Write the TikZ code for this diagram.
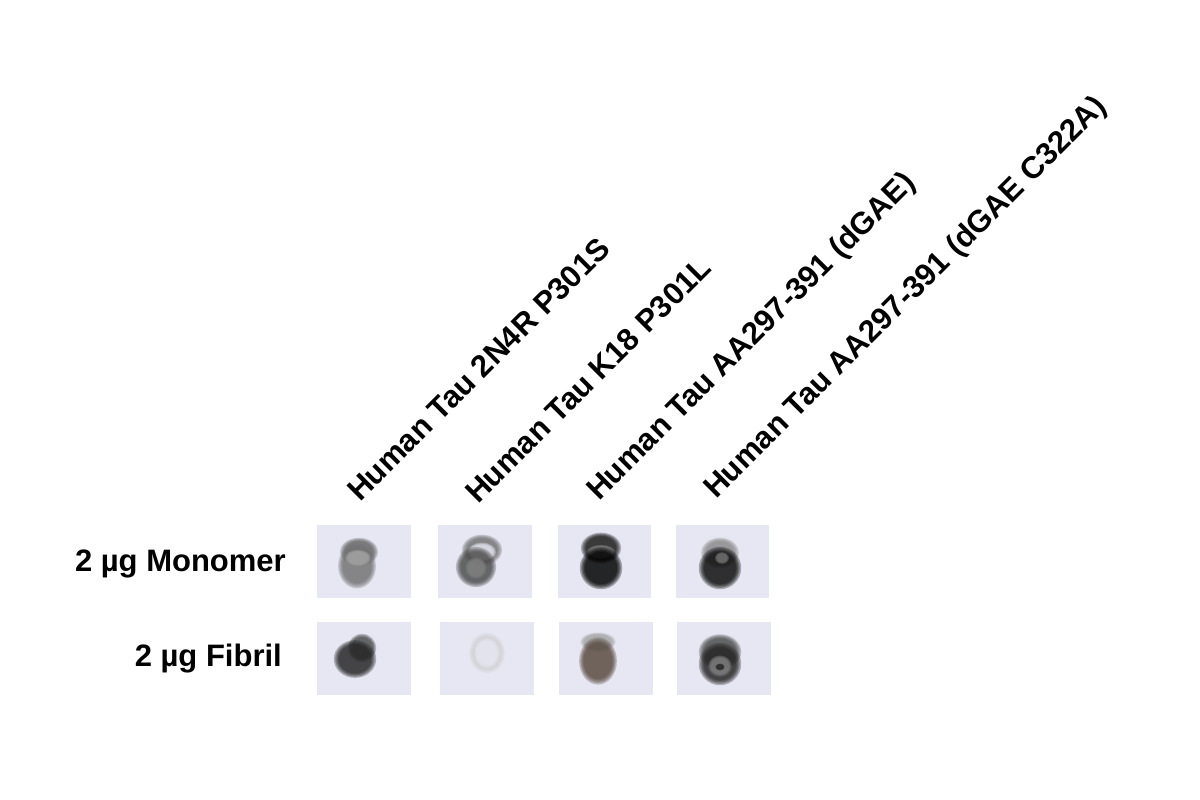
\documentclass[tikz,border=0pt]{standalone}
\usepackage{fontspec}
\setmainfont{Liberation Sans}
\definecolor{bg}{RGB}{230,231,243}
\definecolor{brn}{RGB}{88,74,64}
\tikzset{
  lab/.style={font=\fontsize{31}{34}\selectfont\bfseries, inner sep=0pt},
  collab/.style={lab, rotate=45, anchor=base west},
  panel/.style={fill=bg, draw=none}
}
\newcommand{\blob}[5]{\foreach \s in {1.18,1.1,1.03,0.96,0.9}{\fill[#5, opacity=0.3] (#1,{800-#2}) ellipse[x radius=\s*#3, y radius=\s*#4];}}
\begin{document}
\begin{tikzpicture}[x=1pt,y=1pt]
\useasboundingbox (0,0) rectangle (1200,800);
% column labels
\node[collab] (c1) at (360,297) {Human Tau 2N4R P301S};
\node[collab] (c2) at (478,295) {Human Tau K18 P301L};
\node[collab] (c3) at (599,298) {Human Tau AA297-391 (dGAE)};
\node[collab] (c4) at (716,300) {Human Tau AA297-391 (dGAE C322A)};
% row labels
\node[lab, anchor=east] (r1) at (286,236) {2 µg Monomer};
\node[lab, anchor=east] (r2) at (282,141) {2 µg Fibril};
% panels
\fill[panel] (317,202) rectangle (411,275);
\fill[panel] (438,202) rectangle (532,275);
\fill[panel] (558,202) rectangle (651,275);
\fill[panel] (676,202) rectangle (769,275);
\fill[panel] (317,105) rectangle (411,178);
\fill[panel] (440,105) rectangle (534,178);
\fill[panel] (559,105) rectangle (653,178);
\fill[panel] (677,105) rectangle (771,178);
% row 1 spots
\blob{359}{552}{16}{12}{black!60}
\blob{357}{566}{16}{19}{black!55}
\blob{358}{558}{11}{7}{black!35}
\blob{482}{550}{17}{13}{black!55}
\blob{482}{552}{12}{8}{bg}
\blob{476}{567}{17}{17}{black!70}
\blob{476}{568}{9}{9}{black!50}
\blob{601}{548}{17}{13}{black!90}
\blob{601}{552}{12}{6}{black!45}
\blob{601}{568}{18}{18}{black}
\blob{720}{553}{16}{13}{black!45}
\blob{720}{568}{18}{18}{black!95}
\blob{722}{558}{6}{5}{black!55}
% row 2 spots
\blob{362}{648}{12}{12}{black!70}
\blob{355}{659}{18}{16}{black!85}
\blob{487}{653}{15}{17}{black!18}
\blob{487}{653}{11}{13}{bg}
\blob{598}{642}{15}{8}{black!35}
\blob{598}{661}{16}{20}{brn}
\blob{720}{652}{18}{15}{black!70}
\blob{720}{664}{18}{18}{black!85}
\blob{720}{666}{10}{9}{black!50}
\blob{720}{667}{4}{3}{black!85}
\end{tikzpicture}
\end{document}
